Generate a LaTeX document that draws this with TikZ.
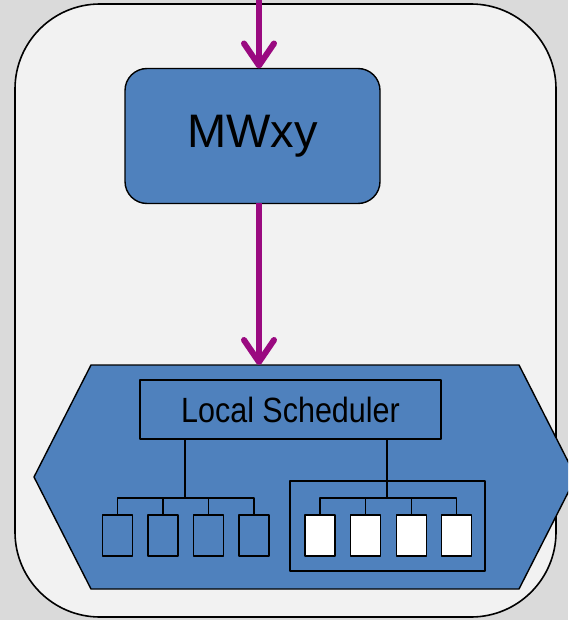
\documentclass[tikz,border=0pt]{standalone}
\usepackage{fontspec}
\setmainfont{Liberation Sans}
\usetikzlibrary{arrows.meta}
\definecolor{boxblue}{RGB}{79,129,189}
\definecolor{flowpurple}{RGB}{154,10,128}
\definecolor{panelgray}{RGB}{242,242,242}
\definecolor{backgray}{RGB}{218,218,218}

\begin{document}
\begin{tikzpicture}
  [x=1pt,y=-1pt,line join=round,
   every node/.style={draw=black,line width=1.4pt,inner sep=0pt,outer sep=0pt},
   slot/.style={minimum width=30pt,minimum height=41pt,fill=boxblue},
   freeslot/.style={slot,fill=white},
   flow/.style={draw=flowpurple,line width=6pt,-{Straight Barb[length=22pt,width=30pt,round]}}]
  \useasboundingbox (0,0) rectangle (568,620);
  \clip (0,0) rectangle (568,620);
  \fill[backgray] (0,0) rectangle (568,620);
  \draw[fill=panelgray,line width=1.6pt,rounded corners=85pt] (15,4) rectangle (556,617);

  \node[fill=boxblue,rounded corners=22pt,minimum width=255pt,minimum height=135pt] (mw) at (252.5,136)
    {\fontsize{47}{50}\selectfont MWxy};

  % hexagon around the scheduler
  \draw[fill=boxblue,line width=1.4pt] (91,365) -- (519,365) -- (576,477) -- (519,589) -- (91,589) -- (34,477) -- cycle;
  \coordinate (hex) at (259,365);
  \coordinate (in) at (259,-2);

  \node[fill=boxblue,minimum width=301pt,minimum height=59pt] (sched) at (290.5,409.5)
    {\scalebox{1}[1.15]{\fontsize{30.5}{32}\selectfont Local Scheduler}};
  \node[fill=boxblue,minimum width=195pt,minimum height=90pt] (grp) at (387.5,526) {};

  \node[slot] (b1) at (117.5,535.5) {};
  \node[slot] (b2) at (163,535.5) {};
  \node[slot] (b3) at (208.5,535.5) {};
  \node[slot] (b4) at (254,535.5) {};
  \node[freeslot] (b5) at (320,535.5) {};
  \node[freeslot] (b6) at (365.5,535.5) {};
  \node[freeslot] (b7) at (411.5,535.5) {};
  \node[freeslot] (b8) at (456.5,535.5) {};

  \coordinate (j1) at (185,498);
  \coordinate (j2) at (387,498);

  \draw[line width=1.4pt] (sched.south -| j1) -- (j1);
  \draw[line width=1.4pt] (b1.north) |- (j1) -| (b4.north);
  \draw[line width=1.4pt] (b2.north) -- (b2.north |- j1);
  \draw[line width=1.4pt] (b3.north) -- (b3.north |- j1);

  \draw[line width=1.4pt] (sched.south -| j2) -- (j2);
  \draw[line width=1.4pt] (b5.north) |- (j2) -| (b8.north);
  \draw[line width=1.4pt] (b6.north) -- (b6.north |- j2);
  \draw[line width=1.4pt] (b7.north) -- (b7.north |- j2);

  \draw[flow] (in) -- (mw.north -| in);
  \draw[flow] (mw.south -| hex) -- (hex);

\end{tikzpicture}
\end{document}
